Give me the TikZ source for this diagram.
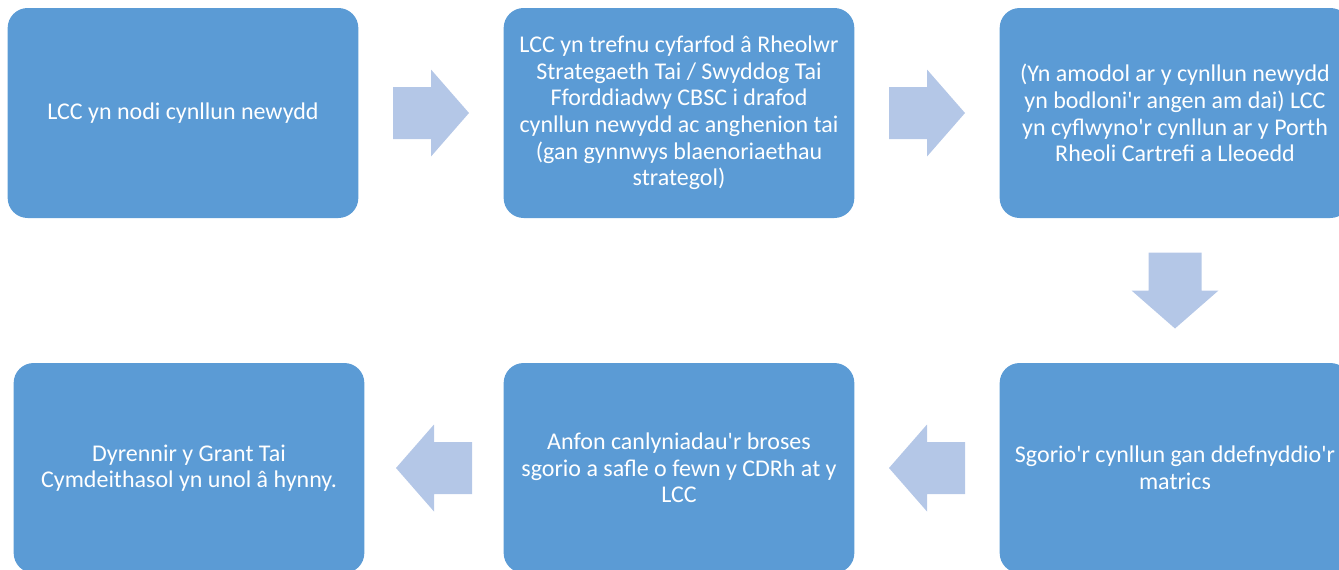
\documentclass[tikz,border=0pt]{standalone}
\usepackage{fontspec}
\setmainfont{Carlito}[Ligatures=TeXOff]
\usepackage{xcolor}
\usetikzlibrary{calc}
\definecolor{boxblue}{RGB}{91, 155, 213}
\definecolor{arrowblue}{RGB}{180, 199, 231}

\begin{document}
\begin{tikzpicture}[x=0.75pt, y=-0.75pt,
    stepbox/.style={fill=boxblue, draw=none, rounded corners=15pt, text=white,
        minimum width=263pt, minimum height=157.5pt, align=center, inner sep=0pt,
        font=\fontsize{18pt}{20pt}\selectfont},
    flowarrow/.style={fill=arrowblue}]
                \clip (0,0) rectangle (1339,569);

                % Top row
                \node[stepbox] (b1) at (183,113) {LCC yn nodi cynllun newydd};
                \node[stepbox] (b2) at (679,113) {LCC yn trefnu cyfarfod â Rheolwr\\Strategaeth Tai / Swyddog Tai\\Fforddiadwy CBSC i drafod\\cynllun newydd ac anghenion tai\\(gan gynnwys blaenoriaethau\\strategol)};
                \node[stepbox] (b3) at (1175,113) {(Yn amodol ar y cynllun newydd\\yn bodloni'r angen am dai) LCC\\yn cyflwyno'r cynllun ar y Porth\\Rheoli Cartrefi a Lleoedd};

                % Bottom row
                \node[stepbox] (b4) at (189,468) {Dyrennir y Grant Tai\\Cymdeithasol yn unol â hynny.};
                \node[stepbox] (b5) at (679,468) {Anfon canlyniadau'r broses\\sgorio a safle o fewn y CDRh at y\\LCC};
                \node[stepbox] (b6) at (1175,468) {Sgorio'r cynllun gan ddefnyddio'r\\matrics};

                % Arrows
                \coordinate (a1) at ($(b1.east)!0.5!(b2.west)$);
                \coordinate (a2) at ($(b2.east)!0.5!(b3.west)$);
                \coordinate (a3) at ($(b3.south)!0.5!(b6.north)$);
                \coordinate (a4) at ($(b6.west)!0.5!(b5.east)$);
                \coordinate (a5) at ($(b5.west)!0.5!(b4.east)$);

                \fill[flowarrow] (a1) ++(-38,-26) -- ++(38,0) -- ++(0,-17.5) -- ++(38,43.5) -- ++(-38,43.5) -- ++(0,-17.5) -- ++(-38,0) -- cycle;
                \fill[flowarrow] (a2) ++(-38,-26) -- ++(38,0) -- ++(0,-17.5) -- ++(38,43.5) -- ++(-38,43.5) -- ++(0,-17.5) -- ++(-38,0) -- cycle;
                \fill[flowarrow] (a3) ++(-26.5,-38) -- ++(53,0) -- ++(0,38) -- ++(17,0) -- ++(-43.5,38) -- ++(-43.5,-38) -- ++(17,0) -- cycle;
                \fill[flowarrow] (a4) ++(38,-26) -- ++(-38,0) -- ++(0,-17.5) -- ++(-38,43.5) -- ++(38,43.5) -- ++(0,-17.5) -- ++(38,0) -- cycle;
                \fill[flowarrow] (a5) ++(38,-26) -- ++(-38,0) -- ++(0,-17.5) -- ++(-38,43.5) -- ++(38,43.5) -- ++(0,-17.5) -- ++(38,0) -- cycle;
            \end{tikzpicture}
\end{document}
